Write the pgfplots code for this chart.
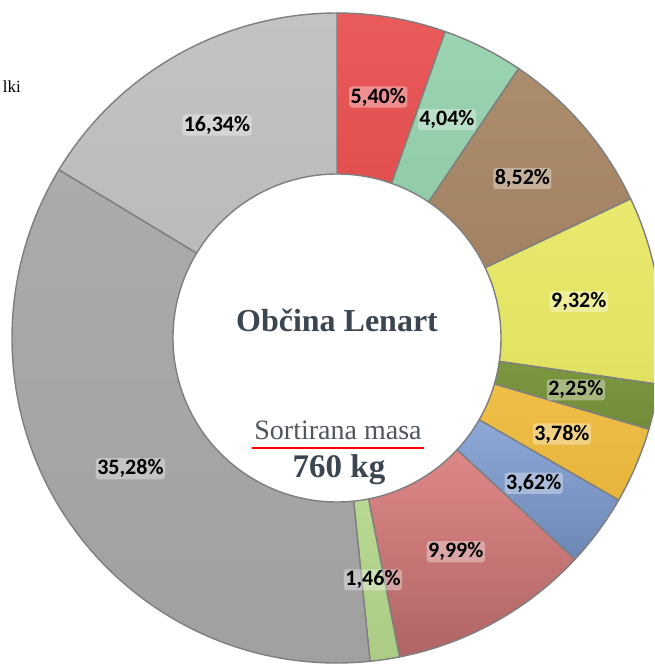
\documentclass[border=0pt]{standalone}
\usepackage{pgfplots}
\pgfplotsset{compat=1.18}
\usepackage{fontspec}
\setmainfont{Liberation Serif}
\newfontfamily\labfont{Carlito}
\definecolor{s1a}{HTML}{EA5B5B}\definecolor{s1b}{HTML}{E24F4F}
\definecolor{s2a}{HTML}{9BD4B1}\definecolor{s2b}{HTML}{92CBA7}
\definecolor{s3a}{HTML}{AB8C6D}\definecolor{s3b}{HTML}{A28262}
\definecolor{s4a}{HTML}{E9E96F}\definecolor{s4b}{HTML}{E1E161}
\definecolor{s5a}{HTML}{7C9740}\definecolor{s5b}{HTML}{728C38}
\definecolor{s6a}{HTML}{EEBF48}\definecolor{s6b}{HTML}{E7B43B}
\definecolor{s7a}{HTML}{8DA9D8}\definecolor{s7b}{HTML}{6D87B5}
\definecolor{s8a}{HTML}{DE8888}\definecolor{s8b}{HTML}{B06464}
\definecolor{s9a}{HTML}{B9D893}\definecolor{s9b}{HTML}{ABCC84}
\definecolor{s10a}{HTML}{ABABAB}\definecolor{s10b}{HTML}{A0A0A0}
\definecolor{s11a}{HTML}{C3C3C3}\definecolor{s11b}{HTML}{BBBBBB}
\definecolor{ringline}{HTML}{7F7F7F}
\definecolor{titlecol}{HTML}{3B4650}
\definecolor{subcol}{HTML}{50565E}
\tikzset{lab/.style={font=\labfont\bfseries\fontsize{22}{26}\selectfont,
  fill=white, fill opacity=0.35, text opacity=1, inner sep=1.5pt, rounded corners=3pt}}
\begin{document}
\begin{tikzpicture}
\begin{axis}[x=1pt,y=1pt,xmin=0,xmax=654,ymin=0,ymax=664,
  hide axis,scale only axis,clip=true,
  /pgf/number format/assume math mode=true]
\coordinate (BL) at (rel axis cs:0,0);
\coordinate (TR) at (rel axis cs:1,1);
\xdef\cum{0}
\foreach \v/\cA/\cB in {5.40/s1a/s1b, 4.04/s2a/s2b, 8.52/s3a/s3b, 9.32/s4a/s4b,
  2.25/s5a/s5b, 3.78/s6a/s6b, 3.62/s7a/s7b, 9.99/s8a/s8b, 1.46/s9a/s9b,
  35.28/s10a/s10b, 16.34/s11a/s11b}{
  \pgfmathsetmacro\aS{90-3.6*\cum}
  \pgfmathsetmacro\aE{90-3.6*(\cum+\v)}
  \pgfmathsetmacro\xA{337+325*cos(\aS)}
  \pgfmathsetmacro\yA{326+325*sin(\aS)}
  \pgfmathsetmacro\xB{337+164*cos(\aE)}
  \pgfmathsetmacro\yB{326+164*sin(\aE)}
  \pgfmathsetmacro\tmp{\cum+\v}
  \xdef\cum{\tmp}
  \edef\temp{\noexpand\path[draw=ringline, line width=1.4pt, line join=round,
      top color=\cA, bottom color=\cB]
    (axis cs:\xA,\yA) arc[start angle=\aS, end angle=\aE, radius=325pt]
    -- (axis cs:\xB,\yB) arc[start angle=\aE, end angle=\aS, radius=164pt] -- cycle;}
  \temp
}
\xdef\cum{0}
\foreach \v in {5.40,4.04,8.52,9.32,2.25,3.78,3.62,9.99,1.46,35.28,16.34}{
  \pgfmathsetmacro\aM{90-3.6*(\cum+\v/2)}
  \pgfmathsetmacro\xM{337+244.5*cos(\aM)}
  \pgfmathsetmacro\yM{326+244.5*sin(\aM)}
  \pgfmathsetmacro\tmp{\cum+\v}
  \xdef\cum{\tmp}
  \edef\temp{\noexpand\node[lab] at (axis cs:\xM,\yM)
    {\noexpand\pgfmathprintnumber[fixed,fixed zerofill,precision=2,use comma]{\v}\noexpand\%};}
  \temp
}
\node[font=\bfseries\fontsize{32}{38}\selectfont, text=titlecol, anchor=base]
  at (axis cs:337,332) {Občina Lenart};
\node[font=\fontsize{28}{32}\selectfont, text=subcol, anchor=base]
  at (axis cs:338,224) {Sortirana masa};
\draw[red, line width=1.2pt] (axis cs:252,216) -- (axis cs:424,216);
\node[font=\bfseries\fontsize{33}{38}\selectfont, text=titlecol, anchor=base]
  at (axis cs:339,186) {760 kg};
\node[font=\fontsize{17}{20}\selectfont, anchor=base east, inner sep=0pt]
  at (axis cs:21,571) {lki};
\end{axis}
\pgfresetboundingbox
\useasboundingbox (BL) rectangle (TR);
\end{tikzpicture}
\end{document}
